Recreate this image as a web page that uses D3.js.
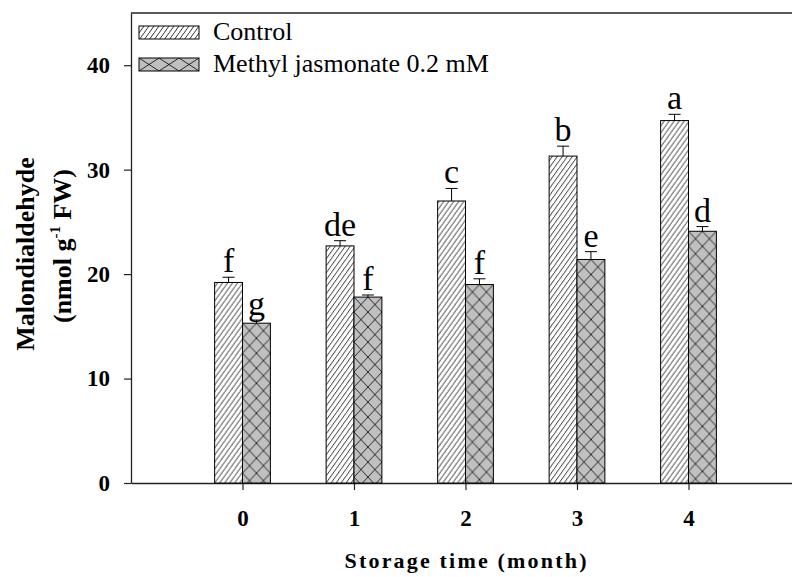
<!DOCTYPE html>
<html>
<head>
<meta charset="utf-8">
<script src="https://cdn.jsdelivr.net/npm/d3@7"></script>
<style>
  body { margin: 0; background: #fff; }
  svg { display: block; }
</style>
</head>
<body>
<svg id="chart" width="792" height="577"></svg>
<script>
// values
const months = [0, 1, 2, 3, 4];
const control = [19.2, 22.7, 27.0, 31.3, 34.7];
const controlErr = [0.5, 0.5, 1.2, 0.95, 0.6];
const mj = [15.3, 17.8, 19.0, 21.4, 24.1];
const mjErr = [0.3, 0.2, 0.55, 0.75, 0.45];
const controlLetters = ['f', 'de', 'c', 'b', 'a'];
const mjLetters = ['g', 'f', 'f', 'e', 'd'];
const yTicks = [0, 10, 20, 30, 40];
const seriesNames = ['Control', 'Methyl jasmonate 0.2 mM'];

const svg = d3.select('#chart');
const serif = '"Liberation Serif", "Times New Roman", serif';

/// scales
const x = d3.scaleLinear().domain([-1, 5]).range([131, 800]);
const y = d3.scaleLinear().domain([0, 45]).range([483, 13]);
const barW = x(0.25) - x(0);

const defs = svg.append('defs');

// diagonal hatch for control
function hatch(id, ox, oy) {
  const p = defs.append('pattern')
    .attr('id', id)
    .attr('patternUnits', 'userSpaceOnUse')
    .attr('x', ox).attr('y', oy)
    .attr('width', 5).attr('height', 7);
  p.append('rect').attr('width', 5).attr('height', 7).attr('fill', '#fff');
  p.append('path')
    .attr('d', 'M0,7 L5,0 M-5,7 L0,0 M5,14 L10,7')
    .attr('stroke', '#000').attr('stroke-width', 0.8);
}

// gray cross hatch for methyl jasmonate
function cross(id, ox, oy, w, h) {
  const p = defs.append('pattern')
    .attr('id', id)
    .attr('patternUnits', 'userSpaceOnUse')
    .attr('x', ox).attr('y', oy)
    .attr('width', w).attr('height', h);
  p.append('rect').attr('width', w).attr('height', h).attr('fill', '#c0c0c0');
  p.append('path')
    .attr('d', `M0,0 L${w},${h} M${w},0 L0,${h}`)
    .attr('stroke', '#000').attr('stroke-width', 0.8);
}

months.forEach(function(m, i) {
  hatch('hatch' + i, x(m) - barW, 0);
  cross('cross' + i, x(m), y(mj[i]), barW / 2, 15);
});

/// axes
const yAxis = svg.append('g')
  .attr('transform', `translate(${x(-1)},0)`)
  .call(d3.axisLeft(y).tickValues(yTicks).tickSize(7).tickSizeOuter(0).tickPadding(14));

const xAxis = svg.append('g')
  .attr('transform', `translate(0,${y(0)})`)
  .call(d3.axisBottom(x).tickValues(months).tickFormat(d3.format('d')).tickSize(7).tickSizeOuter(0).tickPadding(20));

[yAxis, xAxis].forEach(function(g) {
  g.select('.domain').attr('stroke', '#222').attr('stroke-width', 1.3);
  g.selectAll('.tick line').attr('stroke', '#222').attr('stroke-width', 1.2);
  g.selectAll('.tick text')
    .attr('fill', '#000')
    .style('font-family', serif)
    .style('font-weight', 'bold')
    .style('font-size', '23px');
});

// top frame line
svg.append('line')
  .attr('x1', x(-1)).attr('x2', 792)
  .attr('y1', y(45)).attr('y2', y(45))
  .attr('stroke', '#222').attr('stroke-width', 1.3);

/// bars
const bars = svg.append('g');

bars.selectAll('rect.control')
  .data(months)
  .enter().append('rect')
  .attr('class', 'control')
  .attr('x', function(d) { return x(d) - barW; })
  .attr('y', function(d, i) { return y(control[i]); })
  .attr('width', barW)
  .attr('height', function(d, i) { return y(0) - y(control[i]); })
  .attr('fill', function(d, i) { return 'url(#hatch' + i + ')'; })
  .attr('stroke', '#000').attr('stroke-width', 1);

bars.selectAll('rect.mj')
  .data(months)
  .enter().append('rect')
  .attr('class', 'mj')
  .attr('x', function(d) { return x(d); })
  .attr('y', function(d, i) { return y(mj[i]); })
  .attr('width', barW)
  .attr('height', function(d, i) { return y(0) - y(mj[i]); })
  .attr('fill', function(d, i) { return 'url(#cross' + i + ')'; })
  .attr('stroke', '#000').attr('stroke-width', 1);

/// error bars (upper only) and letters
function errorBars(vals, errs, letters, offset) {
  const g = svg.append('g');
  months.forEach(function(m, i) {
    const cx = x(m) + offset;
    const top = y(vals[i] + errs[i]);
    g.append('line')
      .attr('x1', cx).attr('x2', cx)
      .attr('y1', y(vals[i])).attr('y2', top)
      .attr('stroke', '#000').attr('stroke-width', 1);
    g.append('line')
      .attr('x1', cx - 6).attr('x2', cx + 6)
      .attr('y1', top).attr('y2', top)
      .attr('stroke', '#000').attr('stroke-width', 1);
    g.append('text')
      .attr('x', cx).attr('y', top - 5)
      .attr('text-anchor', 'middle')
      .style('font-family', serif)
      .style('font-size', '34px')
      .text(letters[i]);
  });
}
errorBars(control, controlErr, controlLetters, -barW / 2);
errorBars(mj, mjErr, mjLetters, barW / 2);

/// legend
hatch('hatchLegend', 139, 26);
cross('crossLegend', 139, 58, 20, 13);
const legend = svg.append('g');
[['url(#hatchLegend)', 26], ['url(#crossLegend)', 58]].forEach(function(d, i) {
  legend.append('rect')
    .attr('x', 139).attr('y', d[1])
    .attr('width', 60).attr('height', 13)
    .attr('fill', d[0])
    .attr('stroke', '#000').attr('stroke-width', 1);
  legend.append('text')
    .attr('x', 213).attr('y', d[1] + 13.5)
    .style('font-family', serif)
    .style('font-size', '26px')
    .text(seriesNames[i]);
});

/// axis titles
svg.append('text')
  .attr('x', x(2)).attr('y', 568)
  .attr('text-anchor', 'middle')
  .attr('textLength', 242).attr('lengthAdjust', 'spacing')
  .style('font-family', serif)
  .style('font-weight', 'bold')
  .style('font-size', '22px')
  .text('Storage time (month)');

svg.append('text')
  .attr('transform', 'translate(34,254) rotate(-90)')
  .attr('text-anchor', 'middle')
  .style('font-family', serif)
  .style('font-weight', 'bold')
  .style('font-size', '26px')
  .text('Malondialdehyde');

const yt2 = svg.append('text')
  .attr('transform', 'translate(71,246) rotate(-90)')
  .attr('text-anchor', 'middle')
  .style('font-family', serif)
  .style('font-weight', 'bold')
  .style('font-size', '26px');
yt2.append('tspan').text('(nmol g');
yt2.append('tspan').attr('dy', -11).style('font-size', '15px').text('-1');
yt2.append('tspan').attr('dy', 11).text(' FW)');
</script>
</body>
</html>
